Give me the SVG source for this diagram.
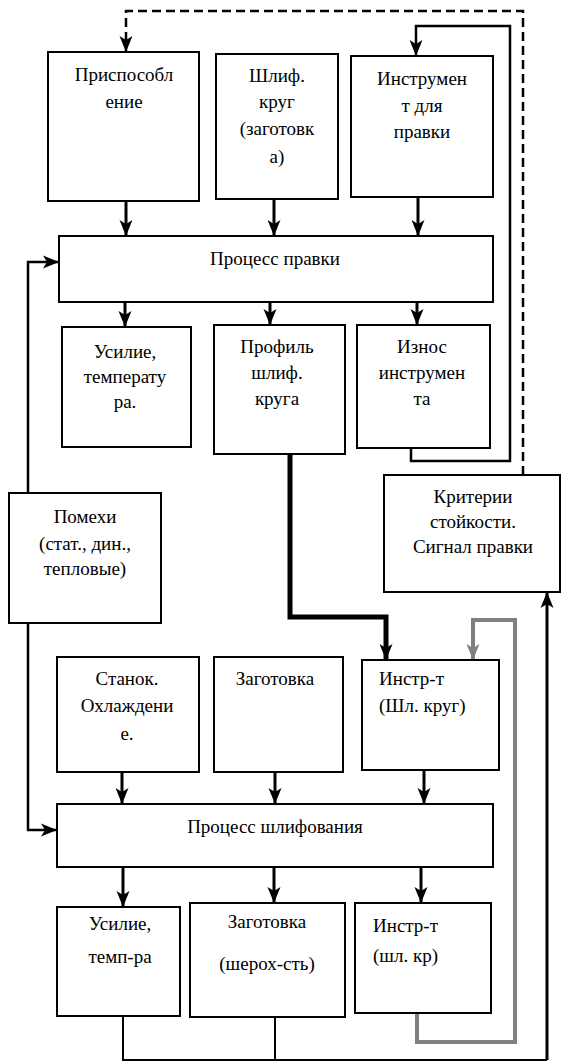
<svg xmlns="http://www.w3.org/2000/svg" width="561" height="1062" viewBox="0 0 561 1062">
<style>
.box{fill:#fff;stroke:#000;stroke-width:2}
.t{font-family:"Liberation Serif","Times New Roman",serif;font-size:19px;fill:#000;text-anchor:middle}
.tl{text-anchor:start}
.arr{fill:none;stroke:#000;stroke-width:3;marker-end:url(#ah)}
.thin{fill:none;stroke:#000;stroke-width:2}
.thinarr{fill:none;stroke:#000;stroke-width:2.5;marker-end:url(#ah)}
.dash{fill:none;stroke:#000;stroke-width:2.5;stroke-dasharray:9 5;marker-end:url(#ah)}
.thick{fill:none;stroke:#000;stroke-width:5;marker-end:url(#ah)}
.gray{fill:none;stroke:#808080;stroke-width:4;marker-end:url(#ahg)}
</style>
<defs>
<marker id="ah" markerUnits="userSpaceOnUse" markerWidth="16" markerHeight="16" viewBox="0 0 16 16" refX="16" refY="8" orient="auto">
<path d="M0,1.5 L16,8 L0,14.5 L4,8 z" fill="#000"/>
</marker>
<marker id="ahg" markerUnits="userSpaceOnUse" markerWidth="16" markerHeight="16" viewBox="0 0 16 16" refX="16" refY="8" orient="auto">
<path d="M0,1.5 L16,8 L0,14.5 L4,8 z" fill="#808080"/>
</marker>
</defs>
<g id="connectors">
<path class="dash" d="M523,475 V11 H126 V52"/>
<path class="thinarr" d="M411,448 V461 H510 V26 H416 V56"/>
<path class="arr" d="M126,201 V236"/>
<path class="arr" d="M274,199 V236"/>
<path class="arr" d="M418,197 V236"/>
<path class="arr" d="M125,302 V327"/>
<path class="arr" d="M270,302 V325"/>
<path class="arr" d="M417,302 V325"/>
<path class="thinarr" d="M28,493 V262 H59"/>
<path class="thinarr" d="M28,623 V830 H57"/>
<path class="thick" d="M290,454 V617 H386 V660"/>
<path class="gray" d="M417,1013 V1042 H515 V620 H473 V660"/>
<path class="arr" d="M547,1060 V592"/>
<path class="thin" d="M123,1016 V1060 H547"/>
<path class="thin" d="M275,1017 V1060"/>
<path class="arr" d="M122,772 V804"/>
<path class="arr" d="M275,772 V804"/>
<path class="arr" d="M424,770 V804"/>
<path class="arr" d="M123,867 V907"/>
<path class="arr" d="M274,867 V903"/>
<path class="arr" d="M421,867 V903"/>
</g>
<g id="n-prisp"><rect class="box" x="48" y="52" width="151" height="149"/>
<text class="t" x="124" y="81">Приспособл</text><text class="t" x="124" y="108">ение</text></g>
<g id="n-shlif"><rect class="box" x="216" y="54" width="122" height="145"/>
<text class="t" x="277" y="82">Шлиф.</text><text class="t" x="277" y="108">круг</text><text class="t" x="277" y="135">(заготовк</text><text class="t" x="277" y="163">а)</text></g>
<g id="n-instr"><rect class="box" x="351" y="56" width="142" height="141"/>
<text class="t" x="422" y="85">Инструмен</text><text class="t" x="422" y="112">т для</text><text class="t" x="422" y="138">правки</text></g>
<g id="n-process1"><rect class="box" x="59" y="236" width="434" height="66"/>
<text class="t" x="275" y="265">Процесс правки</text></g>
<g id="n-usilie1"><rect class="box" x="62" y="327" width="129" height="120"/>
<text class="t" x="125" y="358">Усилие,</text><text class="t" x="125" y="383">температу</text><text class="t" x="125" y="408">ра.</text></g>
<g id="n-profil"><rect class="box" x="214" y="325" width="131" height="129"/>
<text class="t" x="277" y="353">Профиль</text><text class="t" x="277" y="379">шлиф.</text><text class="t" x="277" y="405">круга</text></g>
<g id="n-iznos"><rect class="box" x="357" y="325" width="133" height="123"/>
<text class="t" x="422" y="353">Износ</text><text class="t" x="422" y="379">инструмен</text><text class="t" x="422" y="405">та</text></g>
<g id="n-pomehi"><rect class="box" x="9" y="493" width="152" height="130"/>
<text class="t" x="85" y="523">Помехи</text><text class="t" x="85" y="550">(стат., дин.,</text><text class="t" x="85" y="575">тепловые)</text></g>
<g id="n-kriterii"><rect class="box" x="384" y="475" width="176" height="117"/>
<text class="t" x="473" y="503">Критерии</text><text class="t" x="473" y="528">стойкости.</text><text class="t" x="473" y="553">Сигнал правки</text></g>
<g id="n-stanok"><rect class="box" x="57" y="657" width="142" height="115"/>
<text class="t" x="127" y="685">Станок.</text><text class="t" x="127" y="712">Охлаждени</text><text class="t" x="127" y="740">е.</text></g>
<g id="n-zagot1"><rect class="box" x="214" y="657" width="129" height="115"/>
<text class="t" x="275" y="685">Заготовка</text></g>
<g id="n-instr2"><rect class="box" x="362" y="660" width="137" height="110"/>
<text class="t tl" x="379" y="685">Инстр-т</text><text class="t tl" x="379" y="712">(Шл. круг)</text></g>
<g id="n-process2"><rect class="box" x="57" y="804" width="436" height="63"/>
<text class="t" x="275" y="833">Процесс шлифования</text></g>
<g id="n-usilie2"><rect class="box" x="57" y="907" width="123" height="109"/>
<text class="t" x="120" y="930">Усилие,</text><text class="t" x="120" y="963">темп-ра</text></g>
<g id="n-zagot2"><rect class="box" x="190" y="903" width="155" height="114"/>
<text class="t" x="267" y="928">Заготовка</text><text class="t" x="267" y="970">(шерох-сть)</text></g>
<g id="n-instr3"><rect class="box" x="355" y="903" width="136" height="110"/>
<text class="t tl" x="373" y="932">Инстр-т</text><text class="t tl" x="373" y="962">(шл. кр)</text></g>
</svg>
